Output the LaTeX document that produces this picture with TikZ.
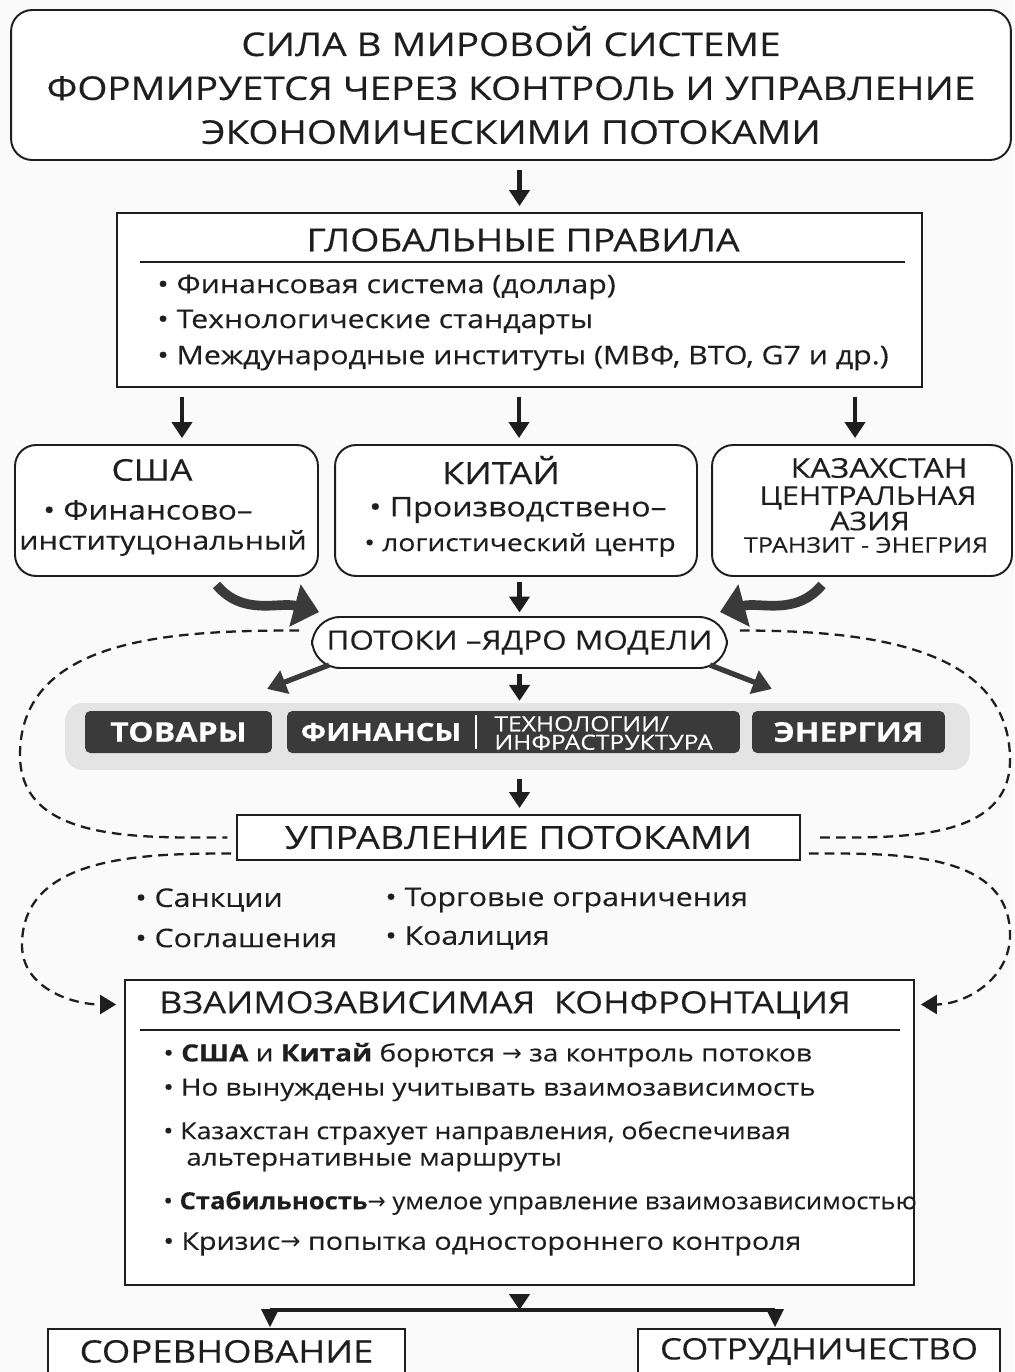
\documentclass[tikz,border=0pt]{standalone}
\usepackage{fontspec}
\setmainfont{Open Sans}[FakeStretch=1.18, FakeBold=0.3]
\newfontfamily\arrowfont{DejaVu Sans}
\usetikzlibrary{arrows.meta,positioning,calc}
\definecolor{darkbox}{HTML}{3A3A3A}
\definecolor{bandgray}{HTML}{E4E4E4}
\definecolor{paper}{HTML}{FAFAFA}
\definecolor{ink}{HTML}{1E1E1E}
\newcommand{\flowarrow}{{\arrowfont\char"2192}}
\newcommand{\fs}[1]{\fontsize{#1}{#1}\selectfont}

\begin{document}
\begin{tikzpicture}[
  x=0.02cm,y=-0.02cm,
  box/.style={draw=ink, line width=1.1pt, rounded corners=12pt, fill=white, inner sep=0pt},
  sqbox/.style={draw=ink, line width=1.1pt, fill=white, inner sep=0pt},
  dark/.style={fill=darkbox, rounded corners=3pt, minimum height=0.84cm, inner sep=0pt},
  whitetxt/.style={text=white, font=\bfseries\fs{15.5}, inner sep=0pt},
  txt/.style={anchor=west, inner sep=0pt, text=ink, font=\fs{14.6}},
  ctxt/.style={inner sep=0pt, text=ink, font=\fs{14.6}},
  arr/.style={-{Triangle[length=3.2mm,width=4mm]}, draw=ink, line width=2.3pt, shorten <=0.18cm, shorten >=0.12cm},
  bigarr/.style={-{Triangle[length=5mm,width=8.5mm]}, draw=darkbox, line width=5.5pt},
  midarr/.style={-{Triangle[length=3.8mm,width=4.8mm]}, draw=darkbox, line width=3pt},
  dashline/.style={draw=ink, dash pattern=on 5.5pt off 3.5pt, line width=1.3pt},
  dasharr/.style={dashline, -{Triangle[length=3.2mm,width=3.8mm]}}
]
\fill[paper] (0,0) rectangle (1014,1372);
\useasboundingbox (0,0) rectangle (1014,1372);

% title
\node[box, minimum width=20cm, minimum height=3cm, align=center, text=ink, font=\fontsize{18.6}{25}\selectfont] (top) at (511,85)
{СИЛА В МИРОВОЙ СИСТЕМЕ\\ФОРМИРУЕТСЯ ЧЕРЕЗ КОНТРОЛЬ И УПРАВЛЕНИЕ\\ЭКОНОМИЧЕСКИМИ ПОТОКАМИ};

% global rules
\node[sqbox, minimum width=16.1cm, minimum height=3.48cm] (rules) at (519.5,300) {};
\node[ctxt, font=\fs{18}] (rulestitle) at (523,240) {ГЛОБАЛЬНЫЕ ПРАВИЛА};
\draw[ink, line width=0.6pt] (140,262) -- (905,262);
\node[txt] (r1) at (157,287) {• Финансовая система (доллар)};
\node[txt] (r2) at (157,322) {• Технологические стандарты};
\node[txt] (r3) at (157,358) {• Международные институты (МВФ, ВТО, G7 и др.)};
\draw[arr] (top.south -| rules.north) -- (rules.north);

% actors
\node[box, minimum width=6.06cm, minimum height=2.62cm] (usa) at (166.5,510.5) {};
\node[box, minimum width=7.24cm, minimum height=2.62cm] (china) at (516,510.5) {};
\node[box, minimum width=6cm, minimum height=2.62cm] (kaz) at (862,510.5) {};
\node[ctxt, font=\fs{17}] (usat) at (152,470) {США};
\node[ctxt, font=\fs{15.2}] (usa1) at (148,510) {• Финансово–};
\node[ctxt, font=\fs{14.7}] (usa2) at (163,543) {институцональный};
\node[ctxt, font=\fs{17.5}] (chinat) at (501,470) {КИТАЙ};
\node[ctxt, font=\fs{15.5}] (china1) at (518,510) {• Производствено–};
\node[ctxt, font=\fs{13.6}] (china2) at (520,545) {• логистический центр};
\node[ctxt, font=\fs{15.5}] (kazt) at (879,468) {КАЗАХСТАН};
\node[ctxt, font=\fs{14.7}] (kaz1) at (868,498) {ЦЕНТРАЛЬНАЯ};
\node[ctxt, font=\fs{14.7}] (kaz2) at (870,521) {АЗИЯ};
\node[ctxt, font=\fs{12.2}] (kaz3) at (866,545) {ТРАНЗИТ - ЭНЕГРИЯ};
\draw[arr] (rules.south -| 182,0) -- (usa.north -| 182,0);
\draw[arr] (rules.south -| 519,0) -- (china.north -| 519,0);
\draw[arr] (rules.south -| 855,0) -- (kaz.north -| 855,0);

% flows core
\node[box, rounded corners=16pt, minimum width=8.3cm, minimum height=1.02cm, text=ink, font=\fs{15.2}] (flows) at (519.5,642.5) {ПОТОКИ –ЯДРО МОДЕЛИ};
\draw[bigarr] ([shift={(50,8)}]usa.south) to[out=-50,in=165] ([shift={(8,-4)}]flows.north west);
\draw[bigarr] ([shift={(-40,8)}]kaz.south) to[out=-130,in=15] ([shift={(-8,-4)}]flows.north east);
\draw[arr, shorten <=3pt, shorten >=2pt] (china.south -| flows.north) -- (flows.north);

% goods / finance / energy
\node[fill=bandgray, rounded corners=10pt, minimum width=18.1cm, minimum height=1.34cm] (band) at (517.5,736.5) {};
\node[dark, minimum width=3.74cm] (goods) at (178.5,732) {};
\node[dark, minimum width=9.06cm] (fin) at (513.5,732) {};
\node[dark, minimum width=3.86cm] (energy) at (848.5,732) {};
\node[whitetxt] (goodst) at (goods) {ТОВАРЫ};
\node[whitetxt, font=\bfseries\fs{14.2}] (fint) at (381,732) {ФИНАНСЫ};
\draw[white, line width=0.6pt] (476,715) -- (476,749);
\node[text=white, anchor=west, align=left, inner sep=0pt, font=\fontsize{11.9}{10.5}\selectfont] (techt) at (494,733) {ТЕХНОЛОГИИ/\\ИНФРАСТРУКТУРА};
\node[whitetxt] (energyt) at (energy) {ЭНЕРГИЯ};
\draw[midarr] ([shift={(18,-4)}]flows.south west) -- ([shift={(-44,20)}]flows.south west);
\draw[midarr] ([shift={(-18,-4)}]flows.south east) -- ([shift={(44,20)}]flows.south east);
\draw[arr, shorten <=3pt, shorten >=1pt] (flows.south) -- (flows.south |- band.north);

% flow management
\node[sqbox, minimum width=11.26cm, minimum height=0.9cm, text=ink, font=\fs{18.1}] (mgmt) at (518.5,837.5) {УПРАВЛЕНИЕ ПОТОКАМИ};
\draw[arr] (band.south -| flows.south) -- (mgmt.north -| flows.south);
\node[txt] (m1) at (135,900) {• Санкции};
\node[txt] (m2) at (385,900) {• Торговые ограничения};
\node[txt] (m3) at (135,938) {• Соглашения};
\node[txt] (m4) at (385,938) {• Коалиция};

% interdependent confrontation
\node[sqbox, minimum width=15.78cm, minimum height=6.1cm] (conf) at (519.5,1132.5) {};
\node[ctxt, font=\fs{17.3}] (conft) at (505,1005) {ВЗАИМОЗАВИСИМАЯ\ \ КОНФРОНТАЦИЯ};
\draw[ink, line width=0.6pt] (140,1030) -- (900,1030);
\node[txt, font=\fs{13.5}] (c1) at (163,1055) {• \textbf{США} и \textbf{Китай} борются \flowarrow{} за контроль потоков};
\node[txt, font=\fs{13.4}] (c2) at (163,1090) {• Но вынуждены учитывать взаимозависимость};
\node[txt, font=\fs{13.4}] (c3) at (163,1133) {\scalebox{0.96}[1]{• Казахстан страхует направления, обеспечивая}};
\node[txt, font=\fs{13.4}] (c3b) at (186,1162) {альтернативные маршруты};
\node[txt, font=\fs{13.4}] (c4) at (163,1203) {\scalebox{0.92}[1]{• \textbf{Стабильность}\flowarrow{} умелое управление взаимозависимостью}};
\node[txt, font=\fs{13.8}] (c5) at (163,1244) {• Кризис\flowarrow{} попытка одностороннего контроля};

% dashed loops
\draw[dashline] ([shift={(-12,-12)}]flows.west) to[out=180,in=90] (20,755) to[out=-90,in=180] ([xshift=-5]mgmt.west);
\draw[dashline] ([shift={(12,-12)}]flows.east) to[out=0,in=90] (1010,760) to[out=-90,in=0] ([xshift=8]mgmt.east);
\draw[dasharr] ([shift={(-5,16)}]mgmt.west) to[out=180,in=90] (22,945) to[out=-90,in=180] ([shift={(-8,-128)}]conf.west);
\draw[dasharr] ([shift={(8,16)}]mgmt.east) to[out=0,in=90] (1010,935) to[out=-90,in=0] ([shift={(6,-128)}]conf.east);

% outcomes
\node[sqbox, anchor=north, minimum width=7.14cm, minimum height=0.9cm, text=ink, font=\fs{17.6}] (comp) at (226.5,1328) {СОРЕВНОВАНИЕ};
\node[sqbox, anchor=north, minimum width=7.24cm, minimum height=0.9cm, text=ink, font=\fs{16.8}] (coop) at (819,1328) {СОТРУДНИЧЕСТВО};
\coordinate (split) at (519.5,1310);
\draw[arr, shorten >=0pt] (conf.south) -- (split);
\draw[ink, line width=2.3pt] (270,1310) -- (775,1310);
\fill[ink] (261,1309) -- (279,1309) -- (270,1327) -- cycle;
\fill[ink] (766,1309) -- (784,1309) -- (775,1327) -- cycle;
\end{tikzpicture}
\end{document}
